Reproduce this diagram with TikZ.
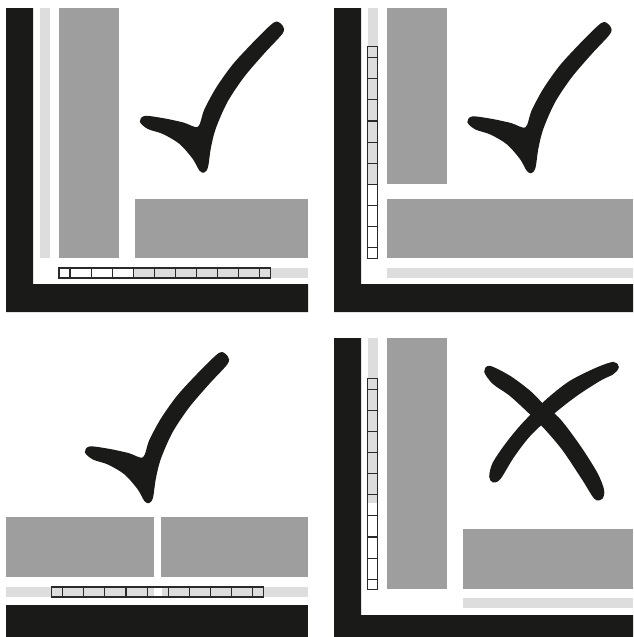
\documentclass[tikz,border=0pt]{standalone}
\definecolor{ink}{HTML}{1A1A18}
\definecolor{tilegray}{HTML}{9D9E9D}
\definecolor{jointgray}{HTML}{DCDDDC}
\definecolor{rulergray}{HTML}{2A2A2A}
\newcommand{\hruler}[2]{%
  \draw[rulerline] (#1,#2) rectangle ++(211.6,10);
  \foreach \k in {0,...,9} \draw[rulerline] ({#1+11+\k*21.1},#2) -- ++(0,10);
}
\newcommand{\vruler}[2]{%
  \draw[rulerline] (#1,#2) rectangle ++(10,211.6);
  \foreach \k in {0,...,9} \draw[rulerline] (#1,{#2+11+\k*21.1}) -- ++(10,0);
}
\begin{document}
\begin{tikzpicture}[x=1pt,y=-1pt,
  wall/.style={fill=ink},
  tile/.style={fill=tilegray},
  joint/.style={fill=jointgray},
  rulerline/.style={draw=rulergray,line width=1.1pt},
  inkmark/.style={fill=ink,draw=ink,line width=1.6pt,line join=round},
  tick/.pic={\path[inkmark] plot[smooth cycle,tension=0.5] coordinates {
    (-62.3,-50.3) (-58,-55.3) (-39.7,-53) (-19.7,-48.7) (-4.7,-44.3)
    (2,-62) (13.7,-83.7) (30.3,-107) (50.3,-128.7) (67,-145.3) (73.7,-149.7)
    (79.3,-145.3) (78.7,-138.7) (60.3,-118.7) (40.3,-95.3) (23.7,-70.3)
    (12,-43.7) (7,-23.7) (4.3,-5.3) (1,-0.3) (-3,-2) (-9.7,-13.7)
    (-23,-28.7) (-39.7,-38.7) (-54.7,-43.7)};}]
\path[fill=white] (0,0) rectangle (633,637);
% top left: tiles kept off both walls
\fill[wall] (6,8) -- (33,8) -- (33,284) -- (308,284) -- (308,312) -- (6,312) -- cycle;
\fill[joint] (40,8) rectangle (50,258);
\fill[tile] (59,8) rectangle (119,258);
\fill[tile] (135,199) rectangle (308,258);
\fill[joint] (133.3,268) rectangle (308,278);
\hruler{59}{268}
\pic at (203,172) {tick};
% top right
\fill[wall] (334,8) -- (361,8) -- (361,284) -- (633,284) -- (633,312) -- (334,312) -- cycle;
\fill[joint] (368,8) rectangle (378,184);
\fill[tile] (387,8) rectangle (447,184);
\fill[tile] (387,199) rectangle (633,258);
\fill[joint] (387,268) rectangle (633,278);
\vruler{367.5}{46.7}
\pic at (530.5,172.5) {tick};
% bottom left
\fill[wall] (6,605) rectangle (308,637);
\fill[tile] (6,517.3) rectangle (154,577.3);
\fill[tile] (161,517.3) rectangle (308,577.3);
\fill[joint] (6,587) rectangle (153.5,597);
\fill[joint] (161.5,587) rectangle (308,597);
\hruler{51.7}{587}
\pic at (148,502.5) {tick};
% bottom right
\fill[wall] (334,338) -- (361,338) -- (361,615) -- (633,615) -- (633,637) -- (334,637) -- cycle;
\fill[joint] (368,338) rectangle (378,503);
\fill[tile] (387,338) rectangle (447,589.3);
\fill[tile] (463.3,529.3) rectangle (633,589.3);
\fill[joint] (463.3,598.3) rectangle (633,608.3);
\vruler{367.5}{378.3}
\path[inkmark] plot[smooth cycle,tension=0.5] coordinates {
  (485,371.7) (490,366.7) (510,376.7) (530,391.7) (543.3,405) (560,420)
  (580,446.7) (596.7,473.3) (603.3,490) (601.7,498.3) (595,498.3)
  (583.3,480) (563.3,450) (545,428.3) (528.3,411.7) (510,395) (493.3,383.3)};
\path[inkmark] plot[smooth cycle,tension=0.5] coordinates {
  (613.3,362.7) (596.7,368.3) (570,381.7) (546.7,400) (523.3,423.3)
  (506.7,443.3) (493.3,463.3) (490,476.7) (493.3,481.7) (500,478.3)
  (513.3,456.7) (530,435) (553.3,413.3) (576.7,395) (600,380)
  (613.3,373.3) (618,367)};
\end{tikzpicture}
\end{document}
